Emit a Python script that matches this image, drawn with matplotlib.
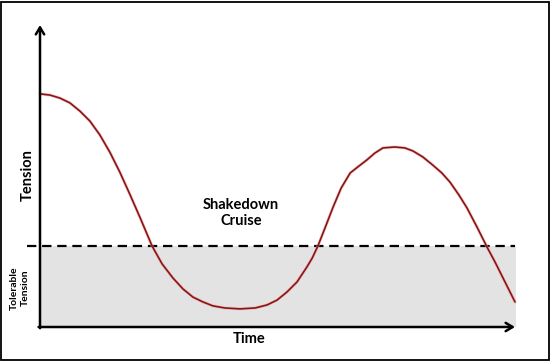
import matplotlib.pyplot as plt
from matplotlib.patches import Rectangle

# DATA (time and tension in arbitrary units, 0-100)
time = [0, 2.1, 4.2, 6.3, 8.4, 10.5, 12.6, 14.7, 16.8, 18.9, 21.1, 23.6,
        25.7, 28.0, 30.1, 32.2, 34.3, 36.4, 38.9, 42.1, 45.3, 47.8, 49.9,
        52.0, 54.1, 56.2, 57.3, 58.5, 60.0, 61.7, 63.4, 65.3, 66.9, 68.8,
        70.5, 72.2, 74.7, 76.8, 78.5, 80.6, 82.7, 84.6, 86.3, 88.2, 89.9,
        92.0, 94.1, 95.8, 97.9, 100]
tension = [77.2, 76.8, 75.8, 74.2, 71.5, 68.2, 63.6, 57.9, 51.3, 44.0, 36.1,
           26.8, 20.9, 16.2, 12.6, 9.9, 8.3, 7.0, 6.3, 6.0, 6.3, 7.3, 8.9,
           11.6, 14.9, 19.9, 22.8, 26.8, 32.8, 39.7, 46.0, 51.0, 53.0, 55.3,
           57.6, 59.3, 59.6, 59.3, 58.3, 56.3, 53.6, 51.0, 48.0, 43.7, 39.4,
           33.1, 26.5, 21.5, 14.9, 8.3]
tolerable_limit = 26.7

W, H = 550, 361
plt.rcParams['font.family'] = ['Lato', 'DejaVu Sans']

fig = plt.figure(figsize=(W / 100, H / 100), dpi=100)
ax = fig.add_axes([40 / W, (H - 327) / H, 475 / W, 302 / H])
ax.set_xlim(0, 100)
ax.set_ylim(0, 100)
ax.axis("off")

# tolerable band and threshold
ax.fill_between([0, 100.3], 0, tolerable_limit, color="#e3e3e3", lw=0, zorder=1)
ax.plot([-2.8, 100], [tolerable_limit, tolerable_limit], color="black",
        lw=1.6, dashes=(4.2, 2.6), clip_on=False, zorder=2)

# tension curve
ax.plot(time, tension, color="#f4a0a0", lw=2.2, alpha=0.6,
        solid_capstyle="round", solid_joinstyle="round", zorder=3,
        clip_on=False)
ax.plot(time, tension, color="#861616", lw=1.2, solid_capstyle="round",
        solid_joinstyle="round", zorder=4, clip_on=False)

# axes arrows
arrow = dict(arrowstyle="->,head_length=0.5,head_width=0.3", lw=1.8,
             color="black", shrinkA=0, shrinkB=0)
ax.annotate("", xy=(0, 100), xytext=(0, -0.4), arrowprops=arrow,
            annotation_clip=False, zorder=5)
ax.annotate("", xy=(100, 0), xytext=(-0.3, 0), arrowprops=arrow,
            annotation_clip=False, zorder=5)

# labels
fig.text(28 / W, 1 - 175 / H, "Tension", rotation=90, ha="center",
         va="center", fontsize=10.5, fontweight="bold")
fig.text(249 / W, 1 - 339 / H, "Time", ha="center", va="center",
         fontsize=10.5, fontweight="bold")
fig.text(241 / W, 1 - 213 / H, "Shakedown\nCruise", ha="center",
         va="center", fontsize=10.5, fontweight="bold", linespacing=1.2)
fig.text(20 / W, 1 - 288 / H, "Tolerable\nTension", rotation=90,
         ha="center", va="center", fontsize=7.5, fontweight="bold",
         linespacing=1.3)

# outer frame
fig.patches.append(Rectangle((1 / W, 1 / H), (W - 2.5) / W, (H - 2.5) / H,
                             transform=fig.transFigure, fill=False,
                             edgecolor="black", lw=1.3))

fig.savefig("out.png", dpi=100)
